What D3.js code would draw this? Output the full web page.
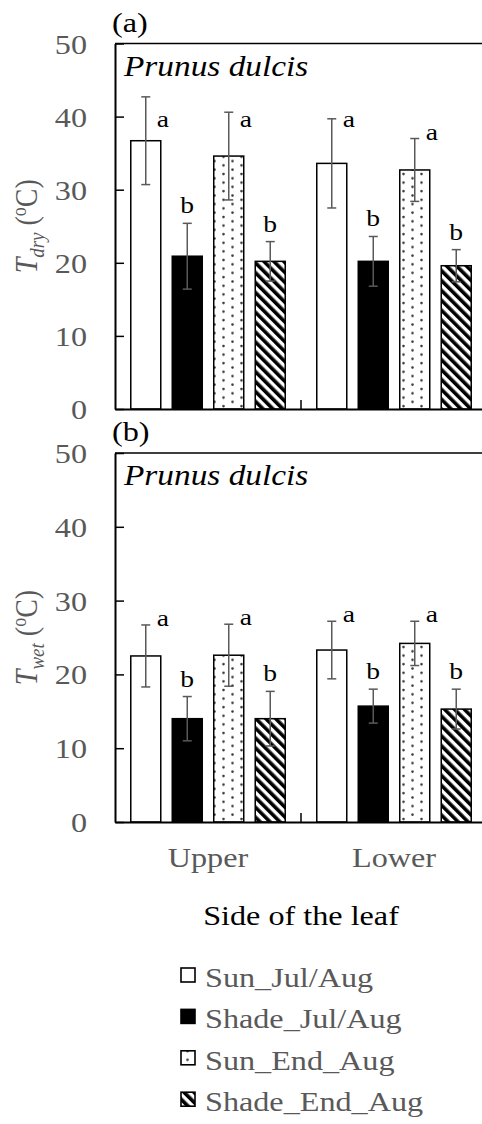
<!DOCTYPE html>
<html>
<head>
<meta charset="utf-8">
<script src="https://cdn.jsdelivr.net/npm/d3@7"></script>
<style>
  body { margin: 0; background: #fff; }
  svg { display: block; }
  text { font-family: "Liberation Serif", "Times New Roman", serif; }
</style>
</head>
<body>
<svg id="chart" width="482" height="1124"></svg>
<script>
// ---- data -------------------------------------------------------------
const sides = ["Upper", "Lower"];
const seriesNames = ["Sun_Jul/Aug", "Shade_Jul/Aug", "Sun_End_Aug", "Shade_End_Aug"];
const yTickValues = [0, 10, 20, 30, 40, 50];

// T_dry (°C), series order as in seriesNames
const tdryUpper    = [36.7, 20.9, 34.6, 20.2];
const tdryLower    = [33.6, 20.2, 32.7, 19.6];
const tdryErrUpper = [6.0, 4.5, 6.0, 2.7];
const tdryErrLower = [6.1, 3.4, 4.3, 2.2];
const tdryLetters  = ["a", "b", "a", "b"];

// T_wet (°C)
const twetUpper    = [22.5, 14.0, 22.6, 14.0];
const twetLower    = [23.3, 15.7, 24.2, 15.3];
const twetErrUpper = [4.2, 3.0, 4.2, 3.7];
const twetErrLower = [3.9, 2.3, 3.0, 2.7];
const twetLetters  = ["a", "b", "a", "b"];

// ---- styling ----------------------------------------------------------
const SX = 1.15;              // horizontal stretch of all lettering
const GREY = "#595959";
const fills = ["#ffffff", "#000000", "url(#dots)", "url(#hatch)"];
const sunSeries = [true, false, true, false];

const svg = d3.select("#chart");

// fill patterns
const defs = svg.append("defs");
const dots = defs.append("pattern")
  .attr("id", "dots").attr("patternUnits", "userSpaceOnUse")
  .attr("width", 18).attr("height", 8.6).attr("x", 3);
dots.append("rect").attr("width", 18).attr("height", 8.6).attr("fill", "#fff");
dots.append("circle").attr("cx", 4.5).attr("cy", 2).attr("r", 1.3).attr("fill", "#3a3a3a");
dots.append("circle").attr("cx", 13.5).attr("cy", 6.3).attr("r", 1.3).attr("fill", "#3a3a3a");

const hatch = defs.append("pattern")
  .attr("id", "hatch").attr("patternUnits", "userSpaceOnUse")
  .attr("width", 7).attr("height", 7)
  .attr("patternTransform", "rotate(-45)");
hatch.append("rect").attr("width", 7).attr("height", 7).attr("fill", "#fff");
hatch.append("rect").attr("width", 3.6).attr("height", 7).attr("fill", "#000");

function place(sel, x, y, extra = "") {
  return sel.attr("transform", `translate(${x},${y}) scale(${SX},1)${extra}`);
}

// ---- layout -----------------------------------------------------------
const xLeft = 115, xRight = 487;
const x = d3.scaleBand().domain(sides).range([xLeft, xRight]).padding(0);
const xi = d3.scaleBand().domain(seriesNames).range([0, x.bandwidth()])
  .paddingInner(0.277).paddingOuter(0.38);

const panels = [
  { tag: "(a)", top: 43.5, bottom: 409, sub: "dry",
    means: [tdryUpper, tdryLower], errs: [tdryErrUpper, tdryErrLower],
    letters: tdryLetters, showSides: false },
  { tag: "(b)", top: 453, bottom: 822, sub: "wet",
    means: [twetUpper, twetLower], errs: [twetErrUpper, twetErrLower],
    letters: twetLetters, showSides: true }
];

panels.forEach(p => {
  const y = d3.scaleLinear().domain([0, 50]).range([p.bottom, p.top]);
  const g = svg.append("g");

  const rows = sides.flatMap((side, si) => seriesNames.map((name, j) => ({
    side, name, j, mean: p.means[si][j], err: p.errs[si][j], letter: p.letters[j]
  })));

  // plot frame (top and right edges)
  g.append("path")
    .attr("d", `M${xLeft},${y(50)}H${xRight}V${y(0)}`)
    .attr("fill", "none").attr("stroke", "#000").attr("stroke-width", 1.5);

  // bars
  g.selectAll("rect.bar").data(rows).join("rect")
    .attr("class", "bar")
    .attr("x", d => x(d.side) + xi(d.name))
    .attr("y", d => y(d.mean))
    .attr("width", xi.bandwidth())
    .attr("height", d => y(0) - y(d.mean))
    .attr("fill", d => fills[d.j])
    .attr("stroke", "#000").attr("stroke-width", 1.5);

  // error bars
  const eb = g.selectAll("g.err").data(rows).join("g").attr("class", "err")
    .attr("stroke", GREY).attr("stroke-width", 1.5);
  const cx = d => x(d.side) + xi(d.name) + xi.bandwidth() / 2;
  eb.append("line")
    .attr("x1", cx).attr("x2", cx)
    .attr("y1", d => y(d.mean - d.err)).attr("y2", d => y(d.mean + d.err));
  eb.append("line")
    .attr("x1", d => cx(d) - 4.5).attr("x2", d => cx(d) + 4.5)
    .attr("y1", d => y(d.mean + d.err)).attr("y2", d => y(d.mean + d.err));
  eb.append("line")
    .attr("x1", d => cx(d) - 4.5).attr("x2", d => cx(d) + 4.5)
    .attr("y1", d => y(d.mean - d.err)).attr("y2", d => y(d.mean - d.err));

  // significance letters
  g.selectAll("text.letter").data(rows).join("text")
    .attr("class", "letter")
    .attr("font-size", 24).attr("fill", "#000")
    .attr("text-anchor", d => sunSeries[d.j] ? "start" : "middle")
    .text(d => d.letter)
    .each(function (d) {
      const capY = y(d.mean + d.err);
      if (sunSeries[d.j]) {
        place(d3.select(this), cx(d) + 11, Math.max(capY + 1, y(38.6)));
      } else {
        place(d3.select(this), cx(d), capY - 10);
      }
    });

  // y axis
  const yAxis = g.append("g")
    .attr("transform", `translate(${xLeft},0)`)
    .call(d3.axisLeft(y).tickValues(yTickValues).tickFormat(d3.format("d"))
      .tickSizeInner(-9).tickSizeOuter(0).tickPadding(28))
    .attr("font-family", null).attr("font-size", null);
  yAxis.select(".domain").attr("stroke", "#000").attr("stroke-width", 2);
  yAxis.selectAll(".tick line").attr("stroke", "#000").attr("stroke-width", 1.5);
  yAxis.selectAll(".tick text")
    .attr("font-size", 28).attr("fill", GREY)
    .attr("x", -28 / SX).attr("dy", "0.34em")
    .attr("transform", `scale(${SX},1)`);

  // x axis
  const xAxis = g.append("g")
    .attr("transform", `translate(0,${y(0)})`)
    .call(d3.axisBottom(x).tickSize(0).tickSizeOuter(0).tickPadding(25)
      .tickFormat(p.showSides ? (d => d) : () => ""))
    .attr("font-family", null).attr("font-size", null);
  xAxis.select(".domain").attr("stroke", "#000").attr("stroke-width", 2);
  xAxis.selectAll(".tick text")
    .attr("font-size", 28).attr("fill", GREY)
    .attr("transform", `scale(${SX},1)`)
    .attr("x", 0).attr("dy", "0.71em");

  // separators between leaf sides
  g.selectAll("line.sep").data(sides.slice(1)).join("line")
    .attr("class", "sep")
    .attr("x1", d => x(d)).attr("x2", d => x(d))
    .attr("y1", y(0)).attr("y2", y(0) - 9)
    .attr("stroke", "#000").attr("stroke-width", 1.5);

  // species name
  place(g.append("text"), 124, p.top + 32)
    .attr("font-size", 29).attr("font-style", "italic").attr("fill", "#000")
    .text("Prunus dulcis");

  // panel tag
  place(g.append("text"), 112, p.top - 12)
    .attr("font-size", 28).attr("fill", "#000").text(p.tag);

  // y axis title
  const yt = g.append("text")
    .attr("transform", `translate(37,${(p.top + p.bottom) / 2}) scale(${SX},1) rotate(-90)`)
    .attr("text-anchor", "middle").attr("font-size", 28).attr("fill", GREY);
  yt.append("tspan").attr("font-style", "italic").text("T");
  yt.append("tspan").attr("font-style", "italic").attr("font-size", 19)
    .attr("dy", 6).text(p.sub);
  yt.append("tspan").attr("dy", -6).text(" (");
  yt.append("tspan").attr("font-size", 18).attr("dy", -10).text("o");
  yt.append("tspan").attr("dy", 10).text("C)");
});

// x axis title
place(svg.append("text"), 301, 925)
  .attr("text-anchor", "middle").attr("font-size", 28).attr("fill", "#000")
  .text("Side of the leaf");

// legend
const legend = svg.append("g");
seriesNames.forEach((name, j) => {
  const base = 987 + j * 41.4;
  legend.append("rect")
    .attr("x", 181).attr("y", base - 19).attr("width", 14).attr("height", 14)
    .attr("fill", fills[j]).attr("stroke", "#000").attr("stroke-width", 1.6);
  place(legend.append("text"), 205, base)
    .attr("font-size", 28).attr("fill", GREY).text(name);
});
</script>
</body>
</html>
